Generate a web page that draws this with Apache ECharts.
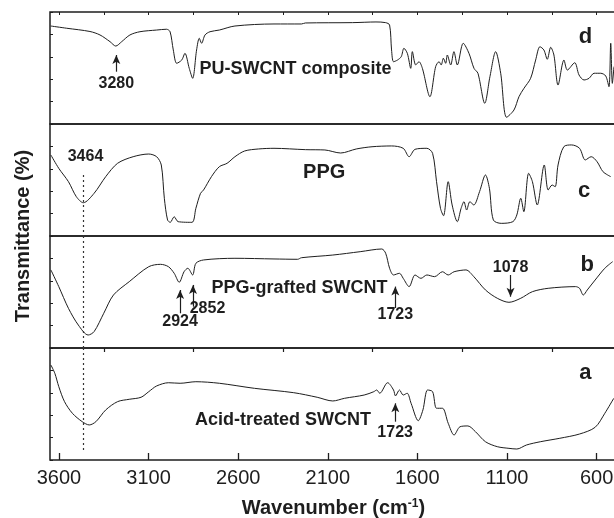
<!DOCTYPE html>
<html>
<head>
<meta charset="utf-8">
<title>FTIR spectra</title>
<style>
  html, body { margin: 0; padding: 0; background: #fff; }
  #chart { width: 614px; height: 518px; }
</style>
</head>
<body>
<div id="chart"></div>
<script src="https://cdn.jsdelivr.net/npm/echarts@6/dist/echarts.min.js"></script>
<script>
// x axis ticks (wavenumber, cm-1)
var tickValues = [3600, 3100, 2600, 2100, 1600, 1100, 600];
var minorValues = [3350, 2850, 2350, 1850, 1350, 850];

// d: PU-SWCNT composite
var dWave = [3646, 3557, 3427, 3371, 3315, 3283, 3250, 3204, 3148, 3055, 3000, 2980, 2962, 2943, 2915, 2897, 2873, 2854, 2832, 2817, 2804, 2785, 2757, 2705, 2618, 2400, 2247, 2225, 1963, 1831, 1777, 1755, 1744, 1733, 1711, 1690, 1675, 1656, 1637, 1628, 1609, 1591, 1572, 1530, 1498, 1479, 1467, 1455, 1442, 1433, 1414, 1396, 1377, 1344, 1312, 1284, 1262, 1224, 1195, 1163, 1135, 1102, 1061, 1033, 1005, 968, 940, 916, 894, 875, 856, 838, 815, 782, 763, 722, 698, 670, 642, 614, 577, 549, 531, 521, 512, 503];
var dTrans = [87.5, 85.5, 82.6, 79.5, 73.5, 69.6, 73.5, 79.5, 82.4, 83.9, 84.6, 82.4, 66.1, 54.2, 57.1, 63.1, 49.7, 40.8, 66.1, 76.5, 72.1, 79.5, 82.4, 83.9, 87.5, 89.3, 89.3, 90.2, 90.5, 91.1, 90.5, 88.4, 66.1, 55.6, 57.1, 60.1, 67.6, 63.1, 49.7, 64.6, 52.7, 55.6, 49.7, 24.4, 51.2, 55.6, 52.7, 58.7, 54.2, 61.6, 52.7, 64.6, 52.7, 72.1, 63.1, 49.7, 45.3, 18.5, 42.3, 64.6, 45.3, 6.0, 12.5, 24.4, 31.9, 40.8, 57.1, 69.0, 66.1, 57.8, 68.5, 61.6, 34.8, 57.1, 48.2, 54.7, 43.8, 39.3, 40.8, 45.3, 45.3, 42.9, 33.3, 72.1, 36.3, 51.2];

// c: PPG
var cWave = [3645, 3601, 3547, 3503, 3464, 3404, 3339, 3273, 3186, 3099, 3055, 3029, 3012, 2994, 2979, 2957, 2935, 2858, 2836, 2810, 2793, 2749, 2705, 2662, 2618, 2564, 2487, 2400, 2225, 2116, 2028, 1941, 1853, 1744, 1679, 1646, 1613, 1547, 1515, 1493, 1471, 1454, 1428, 1406, 1377, 1356, 1340, 1325, 1307, 1285, 1253, 1220, 1198, 1176, 1132, 1067, 1045, 1023, 1006, 979, 958, 931, 892, 870, 848, 831, 815, 783, 739, 695, 663, 630, 597, 564, 521];
var cTrans = [72.3, 60.4, 48.5, 35.1, 29.7, 38.1, 53.0, 64.9, 70.8, 73.2, 70.8, 63.4, 33.7, 14.3, 12.2, 17.2, 12.8, 12.2, 24.7, 38.1, 41.1, 53.0, 61.9, 64.9, 70.8, 75.9, 77.7, 78.3, 77.1, 76.8, 74.1, 77.7, 79.7, 80.4, 78.3, 70.8, 77.4, 78.3, 73.8, 48.5, 24.7, 18.1, 48.5, 27.7, 12.8, 24.7, 30.6, 23.2, 30.6, 27.7, 39.6, 54.5, 42.6, 14.3, 11.3, 12.8, 18.8, 33.7, 21.7, 56.0, 48.5, 27.7, 63.4, 41.1, 45.5, 44.0, 63.4, 79.7, 81.3, 78.3, 67.9, 70.8, 66.3, 57.4, 53.0];

// b: PPG-grafted SWCNT
var bWave = [3645, 3601, 3547, 3492, 3437, 3404, 3350, 3296, 3208, 3099, 3033, 2989, 2957, 2929, 2902, 2881, 2854, 2836, 2793, 2618, 2400, 2268, 2247, 2072, 1919, 1799, 1777, 1755, 1733, 1700, 1679, 1646, 1613, 1580, 1547, 1504, 1460, 1428, 1395, 1329, 1285, 1220, 1154, 1089, 1023, 958, 870, 717, 695, 674, 652, 608, 554, 510];
var bTrans = [69.7, 54.8, 35.4, 20.5, 11.6, 14.6, 31.0, 47.3, 59.2, 72.6, 74.7, 72.6, 66.7, 58.7, 68.1, 71.2, 65.2, 75.6, 78.6, 80.1, 79.5, 79.2, 80.6, 83.0, 86.0, 88.4, 84.6, 71.2, 65.2, 66.7, 62.2, 54.8, 65.2, 62.2, 65.2, 63.7, 68.1, 65.2, 68.1, 69.7, 63.7, 51.8, 44.4, 40.8, 44.4, 50.3, 53.3, 54.8, 53.3, 47.3, 51.8, 60.7, 71.2, 77.1];

// a: Acid-treated SWCNT
var aWave = [3645, 3623, 3601, 3569, 3525, 3470, 3431, 3394, 3339, 3273, 3208, 3142, 3099, 3055, 2989, 2924, 2836, 2705, 2509, 2290, 2159, 2072, 2006, 1897, 1843, 1827, 1810, 1766, 1733, 1722, 1700, 1679, 1657, 1635, 1595, 1569, 1543, 1515, 1493, 1460, 1428, 1395, 1362, 1318, 1276, 1220, 1154, 1089, 1045, 991, 914, 805, 695, 608, 554, 504];
var aTrans = [84.8, 77.4, 65.5, 52.1, 41.7, 34.2, 31.3, 34.2, 44.7, 52.1, 54.2, 56.0, 61.0, 66.1, 69.0, 68.5, 69.9, 68.5, 64.0, 60.1, 56.0, 52.7, 55.1, 58.0, 61.0, 62.5, 59.6, 69.0, 62.5, 57.2, 62.5, 58.0, 59.6, 50.6, 35.1, 44.7, 62.5, 61.0, 46.2, 46.2, 32.8, 22.3, 29.7, 30.4, 25.3, 16.3, 11.9, 10.4, 9.8, 13.4, 16.3, 19.4, 23.2, 29.2, 41.7, 55.1];

var FONT = 'Liberation Sans, Arial, Helvetica, sans-serif';
var INK = '#1e1e1e';
var X_MIN = 486, X_MAX = 3650;

var chart = echarts.init(document.getElementById('chart'), null, {renderer: 'canvas'});

function pairs(w, t) {
    return w.map(function (x, i) { return [x, t[i]]; });
}

// text annotation placed in data coordinates
function note(x, y, text, size, align) {
    return {
        coord: [x, y],
        symbol: 'circle',
        symbolSize: 0,
        label: {
            show: true,
            position: 'inside',
            formatter: text,
            align: align || 'center',
            verticalAlign: 'middle',
            fontFamily: FONT,
            fontWeight: 'bold',
            fontSize: size,
            color: INK
        }
    };
}

// arrow from (x, y0) to (x, y1)
function arrow(x, y0, y1) {
    return [
        {coord: [x, y0], symbol: 'none', lineStyle: {type: 'solid', width: 1.2, color: INK}},
        {coord: [x, y1], symbol: 'arrow', symbolSize: [6, 9]}
    ];
}

// dotted marker line at 3464
function dotted(y0, y1) {
    return [
        {coord: [3464, y0], symbol: 'none', lineStyle: {type: [2, 3], width: 1.2, color: '#333'}},
        {coord: [3464, y1], symbol: 'none'}
    ];
}

var panels = [
    {wave: dWave, trans: dTrans,
     notes: [note(3280, 36.3, '3280', 16), note(2280, 48.8, 'PU-SWCNT composite', 18), note(662, 77.4, 'd', 22)],
     lines: [arrow(3280, 46.7, 61.6)]},
    {wave: cWave, trans: cTrans,
     notes: [note(3452, 70.8, '3464', 16), note(2120, 56.9, 'PPG', 20), note(669, 40.2, 'c', 22)],
     lines: [dotted(54.5, 0)]},
    {wave: bWave, trans: bTrans,
     notes: [note(2924, 23.5, '2924', 16), note(2771, 35.4, '2852', 16), note(2258, 53.3, 'PPG-grafted SWCNT', 18),
             note(1723, 29.5, '1723', 16), note(1080, 72.1, '1078', 16), note(652, 74.1, 'b', 22)],
     lines: [dotted(100, 0), arrow(2924, 31.0, 51.8), arrow(2852, 36.9, 56.3), arrow(1723, 35.7, 54.8), arrow(1080, 65.2, 45.8)]},
    {wave: aWave, trans: aTrans,
     notes: [note(2350, 35.7, 'Acid-treated SWCNT', 18), note(1724, 24.4, '1723', 16), note(662, 77.4, 'a', 22)],
     lines: [dotted(100, 7), arrow(1723, 34.2, 50.6)]}
];

var tops = [12, 124, 236, 348];
var grids = [], xAxes = [], yAxes = [], series = [];

function hiddenX(gi) {
    return {
        type: 'value', gridIndex: gi, min: X_MIN, max: X_MAX, inverse: true,
        axisLine: {show: false}, axisTick: {show: false},
        axisLabel: {show: false}, splitLine: {show: false}
    };
}

panels.forEach(function (p, i) {
    grids.push({left: 50, right: -3, top: tops[i], height: 112, show: true,
                outerBoundsMode: 'none', containLabel: false,
                borderColor: INK, borderWidth: 1.5, backgroundColor: 'transparent'});
    var xa = hiddenX(i);
    if (i === 3) {
        xa.axisTick = {show: true, inside: true, length: 7, customValues: tickValues,
                       lineStyle: {color: INK, width: 1.3}};
        xa.axisLabel = {show: true, customValues: tickValues, margin: 8,
                        formatter: function (v) { return String(v); },
                        fontFamily: FONT, fontSize: 20, color: INK};
        xa.name = '{n|Wavenumber (cm}{s|-1}{n|)}';
        xa.nameLocation = 'middle';
        xa.nameGap = 38;
        xa.nameTextStyle = {
            rich: {
                n: {fontFamily: FONT, fontSize: 20, fontWeight: 'bold', color: INK},
                s: {fontFamily: FONT, fontSize: 12, fontWeight: 'bold', color: INK, verticalAlign: 'top', lineHeight: 12}
            }
        };
    }
    xAxes.push(xa);
    yAxes.push({
        type: 'value', gridIndex: i, min: 0, max: 100, interval: 20,
        axisLine: {show: false}, axisLabel: {show: false}, splitLine: {show: false},
        axisTick: {show: true, inside: true, length: 3, lineStyle: {color: INK, width: 1}}
    });
    series.push({
        type: 'line', xAxisIndex: i, yAxisIndex: i,
        data: pairs(p.wave, p.trans),
        showSymbol: false, smooth: 0.3, silent: true,
        lineStyle: {color: INK, width: 1},
        markPoint: {silent: true, animation: false, data: p.notes},
        markLine: {silent: true, animation: false, label: {show: false}, data: p.lines}
    });
});

// minor ticks on the bottom axis
var minorAxis = hiddenX(3);
minorAxis.axisTick = {show: true, inside: true, length: 4, customValues: minorValues,
                      lineStyle: {color: INK, width: 1.2}};
xAxes.push(minorAxis);

// short ticks along the top border
var topAxis = hiddenX(0);
topAxis.position = 'top';
topAxis.axisTick = {show: true, inside: true, length: 3,
                    customValues: tickValues.concat(minorValues), lineStyle: {color: INK, width: 1}};
xAxes.push(topAxis);

// full-height grid carrying the y title
grids.push({left: 50, right: -3, top: 12, height: 448, show: false, outerBoundsMode: 'none', containLabel: false});
xAxes.push(hiddenX(4));
yAxes.push({
    type: 'value', gridIndex: 4, min: 0, max: 100,
    axisLine: {show: false}, axisTick: {show: false}, axisLabel: {show: false}, splitLine: {show: false},
    name: 'Transmittance (%)', nameLocation: 'middle', nameGap: 17,
    nameTextStyle: {fontFamily: FONT, fontSize: 20, fontWeight: 'bold', color: INK}
});

chart.setOption({
    animation: false,
    backgroundColor: '#fff',
    grid: grids,
    xAxis: xAxes,
    yAxis: yAxes,
    series: series
});
</script>
</body>
</html>
